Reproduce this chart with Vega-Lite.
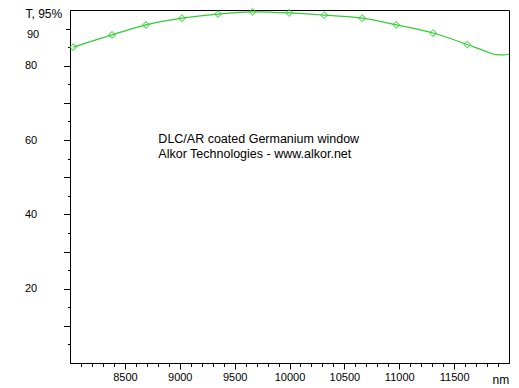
{
  "$schema": "https://vega.github.io/schema/vega-lite/v6.json",
  "width": 439,
  "height": 353,
  "autosize": "none",
  "padding": {"left": 70, "top": 10, "right": 10, "bottom": 25},
  "background": "white",
  "config": {
    "view": {"stroke": "black", "strokeWidth": 1},
    "axis": {
      "grid": false,
      "domainColor": "black",
      "tickColor": "black",
      "labelColor": "black",
      "titleColor": "black",
      "labelFont": "Liberation Sans",
      "titleFont": "Liberation Sans",
      "titleFontWeight": "normal",
      "labelFontSize": 11,
      "titleFontSize": 12,
      "labelOverlap": false,
      "labelFlush": false
    }
  },
  "data": {
    "values": [
      {"nm": 8030, "T": 85.0, "sampled": true},
      {"nm": 8383, "T": 88.3, "sampled": true},
      {"nm": 8692, "T": 91.0, "sampled": true},
      {"nm": 9020, "T": 92.8, "sampled": true},
      {"nm": 9349, "T": 93.9, "sampled": true},
      {"nm": 9664, "T": 94.5, "sampled": true},
      {"nm": 9998, "T": 94.2, "sampled": true},
      {"nm": 10317, "T": 93.6, "sampled": true},
      {"nm": 10663, "T": 92.8, "sampled": true},
      {"nm": 10973, "T": 91.0, "sampled": true},
      {"nm": 11308, "T": 88.8, "sampled": true},
      {"nm": 11620, "T": 85.7, "sampled": true},
      {"nm": 11760, "T": 84.2, "sampled": false},
      {"nm": 11880, "T": 83.0, "sampled": false},
      {"nm": 11950, "T": 82.9, "sampled": false},
      {"nm": 12000, "T": 83.1, "sampled": false}
    ]
  },
  "encoding": {
    "x": {
      "field": "nm",
      "type": "quantitative",
      "scale": {"domain": [8000, 12000], "nice": false, "zero": false},
      "axis": {
        "values": [8100, 8200, 8300, 8400, 8500, 8600, 8700, 8800, 8900, 9000, 9100, 9200, 9300, 9400, 9500, 9600, 9700, 9800, 9900, 10000, 10100, 10200, 10300, 10400, 10500, 10600, 10700, 10800, 10900, 11000, 11100, 11200, 11300, 11400, 11500, 11600, 11700, 11800, 11900],
        "format": "d",
        "labelExpr": "datum.value % 500 === 0 ? datum.label : ''",
        "tickSize": {"condition": {"test": "datum.value % 500 === 0", "value": 6}, "value": 3.5},
        "labelPadding": 2,
        "title": "nm",
        "titleX": 422,
        "titleY": 20,
        "titleAlign": "left",
        "titleBaseline": "alphabetic"
      }
    },
    "y": {
      "field": "T",
      "type": "quantitative",
      "scale": {"domain": [0, 95], "nice": false, "zero": true},
      "axis": {
        "values": [5, 10, 15, 20, 25, 30, 35, 40, 45, 50, 55, 60, 65, 70, 75, 80, 85, 90],
        "labelExpr": "indexof([20, 40, 60, 80], datum.value) >= 0 ? datum.label : (datum.value == 90 ? '\u00a0' + datum.label : '')",
        "tickSize": {"condition": [{"test": "datum.value == 90", "value": 4.5}, {"test": "datum.value % 10 === 0", "value": 6.5}], "value": 2.5},
        "labelAlign": "left",
        "labelPadding": 39,
        "labelOffset": {"condition": {"test": "datum.value == 90", "value": 6}, "value": 0},
        "title": "T, 95%",
        "titleAngle": 0,
        "titleX": -45,
        "titleY": 3,
        "titleAlign": "left",
        "titleBaseline": "middle"
      }
    }
  },
  "layer": [
    {
      "mark": {"type": "line", "color": "#33cc33", "strokeWidth": 1.2, "interpolate": "monotone", "clip": true}
    },
    {
      "transform": [{"filter": "datum.sampled"}],
      "mark": {"type": "point", "shape": "diamond", "filled": false, "color": "#33cc33", "size": 45, "strokeWidth": 1.1}
    },
    {
      "transform": [{"filter": "datum.nm == 8030"}],
      "mark": {
        "type": "text",
        "align": "left",
        "baseline": "top",
        "font": "Liberation Sans",
        "fontSize": 12.5,
        "lineHeight": 15,
        "color": "black",
        "text": ["DLC/AR coated Germanium window", "Alkor Technologies - www.alkor.net"]
      },
      "encoding": {
        "x": {"datum": 8805},
        "y": {"datum": 61.9}
      }
    }
  ]
}
